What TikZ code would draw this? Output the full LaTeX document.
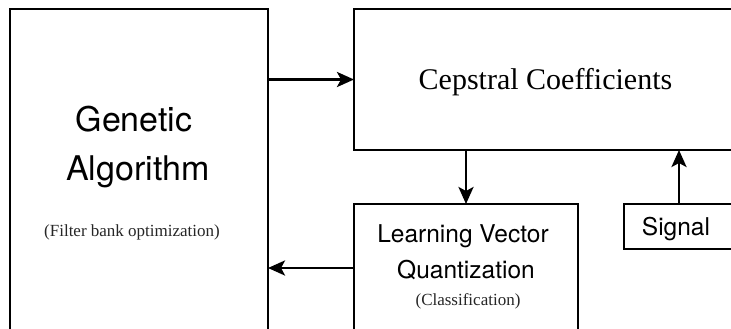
\documentclass[tikz,border=0pt]{standalone}
\usepackage{fontspec}
\setmainfont{Liberation Serif}
\newfontfamily\helv{TeX Gyre Heros}
\usetikzlibrary{arrows.meta}
\begin{document}
\begin{tikzpicture}[x=1pt,y=-1pt,
  box/.style={draw=black, line width=2.8pt, fill=white, inner sep=0pt, outer sep=0pt},
  arr/.style={line width=2.8pt, -{Stealth[length=17pt,width=15pt,inset=4pt]}},
  bigsans/.style={font=\helv\fontsize{34}{40}\selectfont, anchor=base},
  midsans/.style={font=\helv\fontsize{24.5}{30}\selectfont, anchor=base},
  bigserif/.style={font=\fontsize{30}{35}\selectfont, anchor=base},
  smallserif/.style={font=\fontsize{17}{20}\selectfont, anchor=base, text=black!85}]
\useasboundingbox (0,0) rectangle (731,329);
\fill[white] (0,0) rectangle (731,329);
\begin{scope}
\clip (0,0) rectangle (731,329);
\node[box, minimum width=258pt, minimum height=411pt] (GA) at (139,214.5) {};
\node[box, minimum width=446pt, minimum height=141pt] (CC) at (577,79.5) {};
\node[box, minimum width=224pt, minimum height=216pt] (LVQ) at (466,312) {};
\node[box, minimum width=176pt, minimum height=45pt] (SIG) at (712,226.5) {};

\node[bigsans] (t1) at (134,131) {Genetic};
\node[bigsans] (t2) at (138,180) {Algorithm};
\node[smallserif] (t3) at (132,236) {(Filter bank optimization)};
\node[bigserif] (t4) at (545.5,89) {Cepstral Coefficients};
\node[midsans] (t5) at (463,242) {Learning Vector};
\node[midsans] (t6) at (466,278) {Quantization};
\node[smallserif] (t7) at (468,305) {(Classification)};
\node[midsans] (t8) at (676,235) {Signal};

\draw[arr] (GA.east |- CC.west) -- (CC.west);
\draw[arr] ([yshift=44pt]LVQ.west) -- ([yshift=44pt]LVQ.west -| GA.east);
\draw[arr] (CC.south -| LVQ.north) -- (LVQ.north);
\draw[arr] ([xshift=-33pt]SIG.north) -- ([xshift=-33pt]SIG.north |- CC.south);
\end{scope}
\end{tikzpicture}
\end{document}
